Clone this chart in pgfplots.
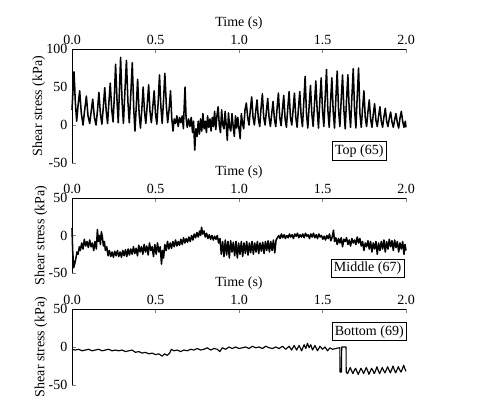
\documentclass[border=0pt]{standalone}
\usepackage{fontspec}
\setmainfont{Liberation Serif}
\usepackage{pgfplots}
\pgfplotsset{compat=1.18}

% 1 px of the reference = 0.75pt
\pgfplotsset{
  shearpanel/.style={
    scale only axis, width=250.5pt,
    xmin=0, xmax=2,
    axis x line*=top, axis y line*=left,
    tick align=inside,
    xtick={0,0.5,1,1.5,2},
    xlabel={Time (s)},
    ylabel={Shear stress (kPa)},
    font=\fontsize{10.5}{12}\selectfont,
    /pgf/number format/assume math mode=true,
    xticklabel style={/pgf/number format/.cd, fixed, fixed zerofill, precision=1},
    yticklabel style={/pgf/number format/.cd, fixed, precision=0},
    xlabel style={yshift=-3pt},
    ylabel style={yshift=-6pt},
    major tick length=3pt,
    clip=false,
    anchor=north west,
  },
}
\tikzset{
  trace/.style={black, line width=1.15pt, line join=round},
  tag/.style={draw=black, fill=white, inner sep=2pt, line width=0.5pt, font=\fontsize{10.5}{12}\selectfont},
}

\begin{document}
\begin{tikzpicture}
\path[use as bounding box] (0,0) rectangle (366pt,-299.25pt);

% ---- Top ----
\begin{axis}[shearpanel, at={(54pt,-36.75pt)}, height=85.5pt,
  ymin=-50, ymax=100, ytick={-50,0,50,100}]
\addplot[trace] coordinates {
(0.000,20)(0.006,45)(0.012,70)(0.020,30)(0.028,5)(0.036,25)(0.046,45)(0.056,15)(0.066,0)(0.076,20)
(0.086,38)(0.096,12)(0.106,2)(0.115,18)(0.124,34)(0.134,10)(0.144,0)(0.153,20)(0.161,43)(0.170,15)
(0.179,1)(0.188,25)(0.196,49)(0.205,18)(0.213,2)(0.221,30)(0.229,55)(0.238,20)(0.246,4)(0.254,40)
(0.261,80)(0.270,30)(0.277,3)(0.284,45)(0.291,89)(0.300,30)(0.308,2)(0.317,45)(0.326,85)(0.335,30)
(0.343,3)(0.352,40)(0.361,82)(0.370,20)(0.377,-8)(0.385,25)(0.393,60)(0.402,15)(0.410,-4)(0.418,20)
(0.426,50)(0.434,18)(0.442,2)(0.450,25)(0.459,53)(0.467,18)(0.475,3)(0.483,22)(0.492,45)(0.500,15)
(0.508,1)(0.516,30)(0.524,66)(0.532,25)(0.540,2)(0.548,32)(0.556,68)(0.565,25)(0.573,3)(0.581,20)
(0.590,45)(0.597,10)(0.605,-8)(0.612,8)(0.620,2)(0.628,12)(0.636,-2)(0.644,10)(0.652,3)(0.660,12)
(0.667,-5)(0.672,25)(0.677,50)(0.683,10)(0.690,-3)(0.698,8)(0.706,-2)(0.714,10)(0.722,-10)(0.728,5)
(0.735,-33)(0.742,-5)(0.749,-15)(0.756,5)(0.763,-12)(0.770,8)(0.777,-8)(0.784,15)(0.791,-5)(0.798,5)
(0.805,-10)(0.812,12)(0.819,-3)(0.826,8)(0.833,-8)(0.840,10)(0.847,-2)(0.854,18)(0.861,-6)(0.868,12)
(0.875,24)(0.882,0)(0.889,-10)(0.896,20)(0.903,0)(0.910,-5)(0.917,18)(0.924,-2)(0.930,-20)(0.937,16)
(0.944,-3)(0.951,-8)(0.958,15)(0.965,-2)(0.972,-15)(0.979,12)(0.986,-4)(0.993,10)(1.000,-5)(1.007,-18)
(1.014,15)(1.021,2)(1.028,-5)(1.036,20)(1.044,29)(1.052,10)(1.060,0)(1.068,20)(1.076,37)(1.084,10)
(1.092,0)(1.100,18)(1.108,33)(1.116,8)(1.124,-2)(1.132,22)(1.140,41)(1.148,10)(1.156,0)(1.164,18)
(1.172,35)(1.180,10)(1.188,-2)(1.196,15)(1.204,31)(1.212,8)(1.220,-2)(1.228,22)(1.236,42)(1.244,10)
(1.252,-1)(1.260,20)(1.268,39)(1.276,8)(1.284,-3)(1.292,22)(1.300,44)(1.308,10)(1.316,0)(1.324,20)
(1.332,42)(1.340,10)(1.348,-3)(1.356,22)(1.364,44)(1.372,12)(1.380,-2)(1.388,30)(1.396,64)(1.404,15)
(1.412,-4)(1.420,25)(1.428,52)(1.436,15)(1.444,-2)(1.452,28)(1.460,58)(1.468,20)(1.476,-4)(1.484,32)
(1.492,62)(1.500,20)(1.508,-2)(1.516,36)(1.524,73)(1.532,20)(1.540,-3)(1.548,30)(1.556,62)(1.564,18)
(1.572,-4)(1.580,35)(1.588,71)(1.596,20)(1.604,-2)(1.612,33)(1.620,66)(1.628,20)(1.636,-5)(1.644,33)
(1.652,66)(1.660,20)(1.668,-3)(1.676,37)(1.684,74)(1.692,20)(1.700,-4)(1.708,38)(1.716,75)(1.724,15)
(1.732,-3)(1.740,22)(1.748,45)(1.756,10)(1.764,-2)(1.772,17)(1.780,33)(1.788,8)(1.796,-3)(1.804,14)
(1.812,28)(1.820,6)(1.828,-2)(1.836,12)(1.844,24)(1.852,5)(1.860,-3)(1.868,11)(1.876,22)(1.884,5)
(1.892,-2)(1.900,9)(1.908,17)(1.916,4)(1.924,-3)(1.932,7)(1.940,15)(1.948,3)(1.956,-4)(1.964,9)
(1.972,18)(1.980,5)(1.988,-3)(1.996,5)(2.000,-3)
};
\node[tag] at (axis cs:1.72,-34) {Top (65)};
\end{axis}

% ---- Middle ----
\begin{axis}[shearpanel, at={(54pt,-148.5pt)}, height=56.25pt,
  ymin=-50, ymax=50, ytick={-50,0,50}]
\addplot[trace] coordinates {
(0.000,10)(0.004,-20)(0.010,-43)(0.016,-38)(0.022,-32)(0.030,-22)(0.036,-25)(0.044,-15)(0.050,-20)(0.058,-10)
(0.066,-18)(0.074,-5)(0.082,-14)(0.090,-8)(0.098,-16)(0.106,-6)(0.114,-15)(0.122,-10)(0.130,-20)(0.138,-8)
(0.146,-18)(0.152,8)(0.158,-8)(0.164,0)(0.170,-12)(0.176,5)(0.182,-2)(0.188,-14)(0.194,-8)(0.200,-20)
(0.208,-15)(0.216,-27)(0.224,-20)(0.232,-28)(0.240,-22)(0.248,-29)(0.256,-21)(0.264,-27)(0.272,-20)(0.280,-28)
(0.288,-22)(0.296,-29)(0.304,-20)(0.312,-27)(0.320,-19)(0.328,-28)(0.336,-18)(0.344,-26)(0.352,-18)(0.360,-25)
(0.368,-15)(0.376,-24)(0.384,-17)(0.392,-27)(0.400,-13)(0.408,-22)(0.416,-15)(0.424,-25)(0.432,-12)(0.440,-22)
(0.448,-14)(0.456,-26)(0.464,-10)(0.472,-20)(0.480,-15)(0.488,-28)(0.496,-12)(0.504,-25)(0.512,-10)(0.520,-22)
(0.528,-15)(0.536,-38)(0.542,-20)(0.548,-30)(0.556,-12)(0.564,-20)(0.572,-8)(0.580,-18)(0.588,-10)(0.596,-17)
(0.604,-8)(0.612,-15)(0.620,-6)(0.628,-14)(0.636,-8)(0.644,-13)(0.652,-5)(0.660,-12)(0.668,-3)(0.676,-10)
(0.684,-4)(0.692,-9)(0.700,-2)(0.708,-8)(0.716,0)(0.724,-6)(0.732,2)(0.740,-3)(0.748,4)(0.756,-2)
(0.764,6)(0.770,0)(0.776,11)(0.782,2)(0.790,6)(0.798,-2)(0.806,3)(0.814,-4)(0.822,1)(0.830,-5)
(0.838,0)(0.846,-6)(0.854,-1)(0.862,-5)(0.870,0)(0.878,-10)(0.886,-4)(0.894,-25)(0.902,-8)(0.910,-28)
(0.918,-6)(0.926,-26)(0.934,-8)(0.942,-30)(0.950,-7)(0.958,-22)(0.966,-9)(0.974,-27)(0.982,-8)(0.990,-30)
(0.998,-10)(1.006,-25)(1.014,-8)(1.022,-28)(1.030,-10)(1.038,-24)(1.046,-8)(1.054,-26)(1.062,-10)(1.070,-23)
(1.078,-8)(1.086,-25)(1.094,-10)(1.102,-22)(1.110,-8)(1.118,-24)(1.126,-10)(1.134,-21)(1.142,-9)(1.150,-24)
(1.158,-8)(1.166,-20)(1.174,-7)(1.182,-22)(1.190,-8)(1.198,-20)(1.206,-6)(1.214,-23)(1.222,-6)(1.230,-3)
(1.238,0)(1.246,-4)(1.254,2)(1.262,-3)(1.270,1)(1.278,-4)(1.286,0)(1.294,-3)(1.302,2)(1.310,-2)
(1.318,1)(1.326,-4)(1.334,2)(1.342,-1)(1.350,3)(1.358,-3)(1.366,1)(1.374,-2)(1.382,2)(1.390,-3)
(1.398,3)(1.406,-1)(1.414,1)(1.422,-4)(1.430,2)(1.438,-2)(1.446,3)(1.454,-3)(1.462,1)(1.470,-4)
(1.478,2)(1.486,-2)(1.494,0)(1.502,-5)(1.510,-1)(1.518,-6)(1.526,0)(1.534,-4)(1.542,2)(1.550,-7)
(1.558,-2)(1.566,7)(1.572,-8)(1.580,-3)(1.588,-12)(1.596,-4)(1.604,-10)(1.612,-3)(1.620,-15)(1.628,-5)
(1.636,-8)(1.644,-3)(1.652,-12)(1.660,-6)(1.668,-14)(1.676,-4)(1.684,-10)(1.692,-6)(1.700,-12)(1.708,-2)
(1.716,-10)(1.724,-4)(1.732,-14)(1.740,-8)(1.748,-20)(1.756,-10)(1.764,-15)(1.772,-7)(1.780,-18)(1.788,-8)
(1.796,-22)(1.804,-10)(1.812,-18)(1.820,-8)(1.828,-25)(1.836,-10)(1.844,-20)(1.852,-8)(1.860,-18)(1.868,-6)
(1.876,-22)(1.884,-8)(1.892,-18)(1.900,-5)(1.908,-15)(1.916,-7)(1.924,-20)(1.932,-6)(1.940,-16)(1.948,-8)
(1.956,-22)(1.964,-10)(1.972,-18)(1.980,-8)(1.988,-25)(1.994,-12)(2.000,-20)
};
\node[tag] at (axis cs:1.77,-44) {Middle (67)};
\end{axis}

% ---- Bottom ----
\begin{axis}[shearpanel, at={(54pt,-231.75pt)}, height=57pt,
  ymin=-50, ymax=50, ytick={-50,0,50}]
\addplot[trace, line width=0.85pt] coordinates {
(0.000,-3)(0.020,-4)(0.040,-3)(0.060,-5)(0.080,-4)(0.100,-3)(0.120,-5)(0.140,-4)(0.160,-3)(0.180,-5)
(0.200,-4)(0.220,-3)(0.240,-5)(0.260,-4)(0.280,-5)(0.300,-4)(0.320,-6)(0.340,-5)(0.360,-4)(0.380,-7)
(0.400,-6)(0.420,-8)(0.440,-7)(0.460,-9)(0.480,-8)(0.500,-10)(0.520,-9)(0.540,-12)(0.555,-9)(0.570,-11)
(0.585,-8)(0.595,-3)(0.610,-5)(0.630,-4)(0.650,-6)(0.670,-4)(0.690,-5)(0.710,-3)(0.730,-4)(0.750,-2)
(0.770,-4)(0.790,-3)(0.810,-1)(0.830,-4)(0.850,-2)(0.870,-3)(0.885,-6)(0.900,-1)(0.920,-3)(0.940,0)
(0.960,-2)(0.980,0)(1.000,-2)(1.020,-1)(1.040,0)(1.060,-2)(1.080,1)(1.100,-1)(1.120,0)(1.140,-2)
(1.160,1)(1.180,-1)(1.200,-2)(1.220,0)(1.240,-2)(1.260,1)(1.280,-3)(1.300,1)(1.315,-4)(1.330,2)
(1.345,-4)(1.360,2)(1.375,-5)(1.390,3)(1.400,-2)(1.410,5)(1.420,-1)(1.430,3)(1.440,-4)(1.455,2)
(1.470,-5)(1.485,1)(1.500,-3)(1.515,0)(1.530,-5)(1.545,-1)(1.560,-3)(1.580,-2)(1.600,-1)(1.604,-1)
(1.605,-33)(1.614,-33)(1.615,0)(1.641,0)(1.642,-33)(1.650,-35)(1.658,-31)(1.666,-27)(1.674,-31)(1.682,-35)
(1.690,-31)(1.698,-28)(1.706,-32)(1.714,-36)(1.722,-32)(1.730,-28)(1.738,-31)(1.746,-35)(1.754,-31)(1.762,-27)
(1.770,-31)(1.778,-36)(1.786,-32)(1.794,-28)(1.802,-31)(1.810,-35)(1.818,-31)(1.826,-26)(1.834,-31)(1.842,-35)
(1.850,-31)(1.858,-27)(1.866,-31)(1.874,-34)(1.882,-30)(1.890,-26)(1.898,-30)(1.906,-34)(1.914,-30)(1.922,-25)
(1.930,-30)(1.938,-34)(1.946,-30)(1.954,-26)(1.962,-30)(1.970,-33)(1.978,-29)(1.986,-24)(1.994,-29)(2.000,-32)
};
\node[tag] at (axis cs:1.78,20) {Bottom (69)};
\end{axis}
\end{tikzpicture}
\end{document}
